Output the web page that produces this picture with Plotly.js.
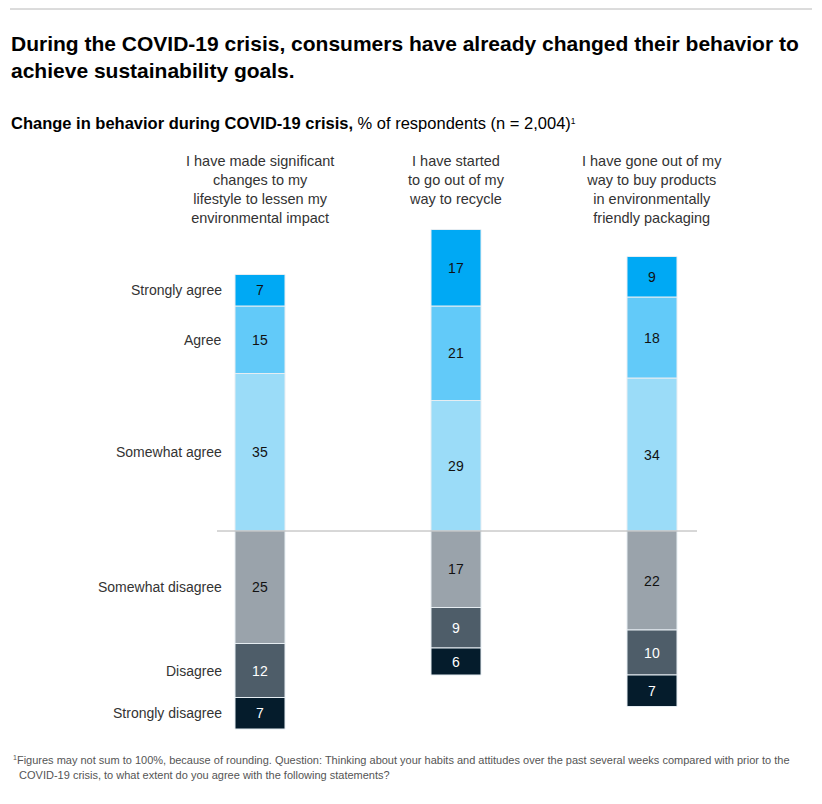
<!DOCTYPE html>
<html>
<head>
<meta charset="utf-8">
<script src="https://cdn.plot.ly/plotly-3.0.1.min.js"></script>
<style>
  html, body { margin: 0; padding: 0; background: #fff; }
  #chart { width: 822px; height: 804px; }
</style>
</head>
<body>
<div id="chart"></div>
<script>
// ---- Data ----
const questions = [
  "I have made significant<br>changes to my<br>lifestyle to lessen my<br>environmental impact",
  "I have started<br>to go out of my<br>way to recycle",
  "I have gone out of my<br>way to buy products<br>in environmentally<br>friendly packaging"
];
const responseLabels = ["Strongly agree", "Agree", "Somewhat agree", "Somewhat disagree", "Disagree", "Strongly disagree"];
const stronglyAgree    = [7, 17, 9];
const agree            = [15, 21, 18];
const somewhatAgree    = [35, 29, 34];
const somewhatDisagree = [25, 17, 22];
const disagree         = [12, 9, 10];
const stronglyDisagree = [7, 6, 7];

// ---- Layout geometry ----
const FW = 822, FH = 804;
const L = 217, R = 697, T = 200, B = 740;
const W = R - L, H = B - T;
const k = 4.5;            // px per percentage point
const base = 531;         // px of zero line
const px2x = px => (px - L) / W;
const px2y = py => (B - py) / H;

const FONT = "Liberation Sans, Arial, sans-serif";
const xs = questions.map((_, i) => i);

function trace(name, vals, sign, color, textColor) {
  return {
    type: "bar",
    name: name,
    x: xs,
    y: vals.map(v => sign * v),
    text: vals.map(v => String(v)),
    texttemplate: "%{text}",
    textposition: "inside",
    insidetextanchor: "middle",
    textangle: 0,
    constraintext: "none",
    textfont: { family: FONT, size: 14, color: textColor },
    marker: { color: color, line: { color: "#e6edf2", width: 1 } },
    width: 0.255,
    hoverinfo: "skip",
    showlegend: false
  };
}

const data = [
  trace("Somewhat agree", somewhatAgree, 1, "#9bdcf8", "#111"),
  trace("Agree", agree, 1, "#62caf9", "#111"),
  trace("Strongly agree", stronglyAgree, 1, "#00a9f4", "#111"),
  trace("Somewhat disagree", somewhatDisagree, -1, "#9aa3ab", "#111"),
  trace("Disagree", disagree, -1, "#4e5d69", "#fff"),
  trace("Strongly disagree", stronglyDisagree, -1, "#051c2c", "#fff")
];

// Row label positions: midpoints of the first bar's segments
const p0 = somewhatAgree[0], p1 = p0 + agree[0], p2 = p1 + stronglyAgree[0];
const n0 = somewhatDisagree[0], n1 = n0 + disagree[0], n2 = n1 + stronglyDisagree[0];
const rowMid = [
  (p1 + p2) / 2, (p0 + p1) / 2, p0 / 2,
  -n0 / 2, -(n0 + n1) / 2, -(n1 + n2) / 2
];

const annotations = [];
annotations.push({
  xref: "paper", yref: "paper", x: px2x(9), y: px2y(30),
  xanchor: "left", yanchor: "top", align: "left", showarrow: false,
  text: "<b>During the COVID-19 crisis, consumers have already changed their behavior to<br>achieve sustainability goals.</b>",
  font: { family: FONT, size: 21, color: "#000" }
});
annotations.push({
  xref: "paper", yref: "paper", x: px2x(9), y: px2y(123),
  xanchor: "left", yanchor: "middle", align: "left", showarrow: false,
  text: "<b>Change in behavior during COVID-19 crisis,</b> % of respondents (n = 2,004)<span style='font-size:12px'><sup>1</sup></span>",
  font: { family: FONT, size: 16.5, color: "#000" }
});
questions.forEach((q, i) => {
  annotations.push({
    xref: "x", yref: "paper", x: i, y: px2y(151),
    xanchor: "center", yanchor: "top", align: "center", showarrow: false,
    text: q,
    font: { family: FONT, size: 14.5, color: "#333" }
  });
});
responseLabels.forEach((lab, j) => {
  annotations.push({
    xref: "paper", yref: "y", x: px2x(224), y: rowMid[j],
    xanchor: "right", yanchor: "middle", showarrow: false,
    text: lab,
    font: { family: FONT, size: 14, color: "#333" }
  });
});
annotations.push({
  xref: "paper", yref: "paper", x: px2x(11), y: px2y(752),
  xanchor: "left", yanchor: "top", align: "left", showarrow: false,
  text: "<span style='font-size:10px'><sup>1</sup></span>Figures may not sum to 100%, because of rounding. Question: Thinking about your habits and attitudes over the past several weeks compared with prior to the<br>  COVID-19 crisis, to what extent do you agree with the following statements?",
  font: { family: FONT, size: 11, color: "#555" }
});

const layout = {
  width: FW, height: FH,
  margin: { l: L, r: FW - R, t: T, b: FH - B, pad: 0 },
  paper_bgcolor: "#fff", plot_bgcolor: "#fff",
  barmode: "relative",
  bargap: 0,
  xaxis: { range: [(L - 260) / 196, (R - 260) / 196], visible: false, fixedrange: true },
  yaxis: { range: [-(B - base) / k, (base - T) / k], visible: false, fixedrange: true, zeroline: false },
  shapes: [
    { type: "line", xref: "paper", yref: "paper", x0: px2x(10), x1: px2x(812), y0: px2y(9), y1: px2y(9),
      line: { color: "#b8b8b8", width: 1 } },
    { type: "line", xref: "paper", yref: "y", x0: 0, x1: 1, y0: 0, y1: 0, layer: "above",
      line: { color: "#b0b0b0", width: 1 } }
  ],
  annotations: annotations,
  showlegend: false
};

Plotly.newPlot("chart", data, layout, { displayModeBar: false, staticPlot: true });
</script>
</body>
</html>
